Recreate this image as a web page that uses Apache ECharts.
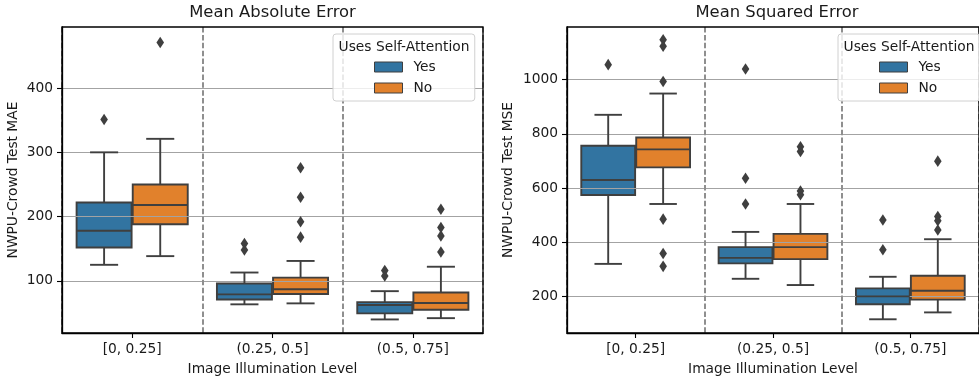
<!DOCTYPE html>
<html>
<head>
<meta charset="utf-8">
<script src="https://cdn.jsdelivr.net/npm/echarts@6/dist/echarts.min.js"></script>
<style>
  html, body { margin: 0; padding: 0; background: #fff; }
  #chart { width: 979px; height: 381px; }
</style>
</head>
<body>
<div id="chart"></div>
<script>
// illumination bins
const categories = ['[0, 0.25]', '(0.25, 0.5]', '(0.5, 0.75]']

// five-number summaries per bin: [whisker low, q1, median, q3, whisker high]
const maeYesBox = [[125, 152, 178, 222, 300], [63.5, 71, 79, 96, 113], [40, 49.5, 62.5, 67, 84]]
const maeNoBox = [[138.5, 188, 218, 250, 321], [65, 79.5, 87, 105, 131], [42, 55, 65.5, 82, 122]]
const maeYesOut = [[351], [158, 148], [116, 107.5]]
const maeNoOut = [[471], [276, 230, 192, 168], [211.5, 183, 170, 145]]

const mseYesBox = [[320, 574, 629.5, 756, 870], [265, 322, 342, 382, 438], [115.6, 170.8, 200, 229.7, 272.4]]
const mseNoBox = [[541, 676, 742.4, 786.5, 948.5], [242, 337.5, 382, 430.6, 541], [141, 188, 221, 276, 411]]
const mseYesOut = [[1055], [1039, 636, 541], [482, 372]]
const mseNoOut = [[1147, 1123, 993, 485, 358.5, 311], [752, 735, 589, 575], [699, 495, 479, 445]]

const maeTicks = [100, 200, 300, 400]
const mseTicks = [200, 400, 600, 800, 1000]

const BLUE = '#3274a1'
const ORANGE = '#e1812c'
const EDGE = '#3f3f3f'
const FONT = 'DejaVu Sans'
const TEXT = '#1a1a1a'

function toBoxData(arr) {
  return arr.map((b, i) => [i].concat(b))
}
function toOutData(arr) {
  const pts = []
  arr.forEach((vals, i) => vals.forEach(v => pts.push([i, v])))
  return pts
}

// side: -1 left (Yes), +1 right (No)
function boxRender(side, part, color) {
  return function (params, api) {
    const cat = api.value(0)
    const band = api.size([1, 0])[0]
    const w = band * 0.4
    const cx = api.coord([cat, api.value(3)])[0] + side * w / 2
    const y = [1, 2, 3, 4, 5].map(i => api.coord([cat, api.value(i)])[1])
    const bw = w * 0.98
    const ls = { stroke: EDGE, lineWidth: 1.9 }
    if (part === 'fill') {
      return {
        type: 'rect',
        shape: { x: cx - bw / 2, y: y[3], width: bw, height: y[1] - y[3] },
        style: { fill: color, stroke: EDGE, lineWidth: 1.9 }
      }
    }
    return {
      type: 'group',
      children: [
        { type: 'line', shape: { x1: cx, y1: y[4], x2: cx, y2: y[3] }, style: ls },
        { type: 'line', shape: { x1: cx, y1: y[1], x2: cx, y2: y[0] }, style: ls },
        { type: 'line', shape: { x1: cx - w / 4, y1: y[4], x2: cx + w / 4, y2: y[4] }, style: ls },
        { type: 'line', shape: { x1: cx - w / 4, y1: y[0], x2: cx + w / 4, y2: y[0] }, style: ls },
        { type: 'line', shape: { x1: cx - bw / 2, y1: y[2], x2: cx + bw / 2, y2: y[2] }, style: ls }
      ]
    }
  }
}

function outRender(side) {
  return function (params, api) {
    const cat = api.value(0)
    const band = api.size([1, 0])[0]
    const w = band * 0.4
    const p = api.coord([cat, api.value(1)])
    const cx = p[0] + side * w / 2
    const hw = 3.8, hh = 5.8
    return {
      type: 'polygon',
      shape: { points: [[cx, p[1] - hh], [cx + hw, p[1]], [cx, p[1] + hh], [cx - hw, p[1]]] },
      style: { fill: EDGE }
    }
  }
}

function makeSeries(idx, yesBox, noBox, yesOut, noOut) {
  const base = { type: 'custom', xAxisIndex: idx, yAxisIndex: idx, silent: true, clip: false }
  return [
    Object.assign({}, base, { name: 'Yes', z: 1, data: toBoxData(yesBox), encode: { x: 0, y: [1, 2, 3, 4, 5] }, renderItem: boxRender(-1, 'fill', BLUE), itemStyle: { color: BLUE } }),
    Object.assign({}, base, { name: 'No', z: 1, data: toBoxData(noBox), encode: { x: 0, y: [1, 2, 3, 4, 5] }, renderItem: boxRender(1, 'fill', ORANGE), itemStyle: { color: ORANGE } }),
    Object.assign({}, base, { name: 'YesLines', z: 3, data: toBoxData(yesBox), encode: { x: 0, y: [1, 2, 3, 4, 5] }, renderItem: boxRender(-1, 'lines') }),
    Object.assign({}, base, { name: 'NoLines', z: 3, data: toBoxData(noBox), encode: { x: 0, y: [1, 2, 3, 4, 5] }, renderItem: boxRender(1, 'lines') }),
    Object.assign({}, base, { name: 'YesOut', z: 3, data: toOutData(yesOut), encode: { x: 0, y: 1 }, renderItem: outRender(-1) }),
    Object.assign({}, base, { name: 'NoOut', z: 3, data: toOutData(noOut), encode: { x: 0, y: 1 }, renderItem: outRender(1) })
  ]
}

function xAxisOf(idx) {
  return {
    type: 'category',
    gridIndex: idx,
    data: categories,
    z: 2,
    name: 'Image Illumination Level',
    nameLocation: 'middle',
    nameGap: 29,
    nameTextStyle: { fontFamily: FONT, fontSize: 13.8, color: TEXT },
    axisLine: { show: true, lineStyle: { color: '#000', width: 1.3 } },
    axisTick: { show: true, alignWithLabel: true, length: 5, lineStyle: { color: '#000', width: 1.1 } },
    axisLabel: { margin: 9, fontFamily: FONT, fontSize: 13.8, color: TEXT },
    splitLine: { show: true, lineStyle: { color: '#8f8f8f', width: 2, type: [5.5, 2.4] } }
  }
}

function yAxisOf(idx, name, min, max, ticks, gap) {
  return {
    type: 'value',
    gridIndex: idx,
    min: min,
    max: max,
    z: 2,
    name: name,
    nameLocation: 'middle',
    nameGap: gap,
    nameTextStyle: { fontFamily: FONT, fontSize: 13.8, color: TEXT },
    axisLine: { show: true, lineStyle: { color: '#000', width: 1.3 } },
    axisTick: { show: true, customValues: ticks, length: 5, lineStyle: { color: '#000', width: 1.1 } },
    axisLabel: { customValues: ticks, margin: 9, fontFamily: FONT, fontSize: 13.8, color: TEXT, formatter: v => String(v) },
    splitLine: { show: true, lineStyle: { color: '#a3a3a3', width: 1.1 } }
  }
}

function legendOf(left) {
  return {
    left: left,
    top: 34,
    orient: 'vertical',
    selectedMode: false,
    z: 6,
    padding: [25, 39, 5, 41],
    itemWidth: 28,
    itemHeight: 10,
    itemGap: 5,
    backgroundColor: 'rgba(255,255,255,0.8)',
    borderColor: '#d0d0d0',
    borderWidth: 1,
    borderRadius: 3,
    textStyle: { fontFamily: FONT, fontSize: 13.8, color: TEXT, lineHeight: 16, padding: [0, 0, 0, 6] },
    data: [
      { name: 'Yes', icon: 'rect', itemStyle: { color: BLUE, borderColor: EDGE, borderWidth: 1 } },
      { name: 'No', icon: 'rect', itemStyle: { color: ORANGE, borderColor: EDGE, borderWidth: 1 } }
    ]
  }
}

const chart = echarts.init(document.getElementById('chart'), null, { renderer: 'canvas' })

chart.setOption({
  animation: false,
  backgroundColor: '#fff',
  title: [
    { text: 'Mean Absolute Error', left: 272.5, top: 5, textAlign: 'center', padding: 0, textStyle: { fontFamily: FONT, fontSize: 16.4, fontWeight: 'normal', color: TEXT } },
    { text: 'Mean Squared Error', left: 777, top: 5, textAlign: 'center', padding: 0, textStyle: { fontFamily: FONT, fontSize: 16.4, fontWeight: 'normal', color: TEXT } }
  ],
  grid: [
    { left: 62, top: 27, width: 421, height: 307, show: true, z: 4, backgroundColor: 'transparent', borderColor: '#000', borderWidth: 1.3 },
    { left: 567, top: 27, width: 421, height: 307, show: true, z: 4, backgroundColor: 'transparent', borderColor: '#000', borderWidth: 1.3 }
  ],
  legend: [legendOf(333), legendOf(838)],
  graphic: [
    { type: 'text', z: 7, x: 404, y: 47, style: { text: 'Uses Self-Attention', font: '13.8px "DejaVu Sans"', fill: TEXT, textAlign: 'center', textVerticalAlign: 'middle' } },
    { type: 'text', z: 7, x: 909, y: 47, style: { text: 'Uses Self-Attention', font: '13.8px "DejaVu Sans"', fill: TEXT, textAlign: 'center', textVerticalAlign: 'middle' } }
  ],
  xAxis: [xAxisOf(0), xAxisOf(1)],
  yAxis: [
    yAxisOf(0, 'NWPU-Crowd Test MAE', 18.9, 495, maeTicks, 42),
    yAxisOf(1, 'NWPU-Crowd Test MSE', 65, 1194, mseTicks, 52)
  ],
  series: makeSeries(0, maeYesBox, maeNoBox, maeYesOut, maeNoOut)
    .concat(makeSeries(1, mseYesBox, mseNoBox, mseYesOut, mseNoOut))
})
</script>
</body>
</html>
